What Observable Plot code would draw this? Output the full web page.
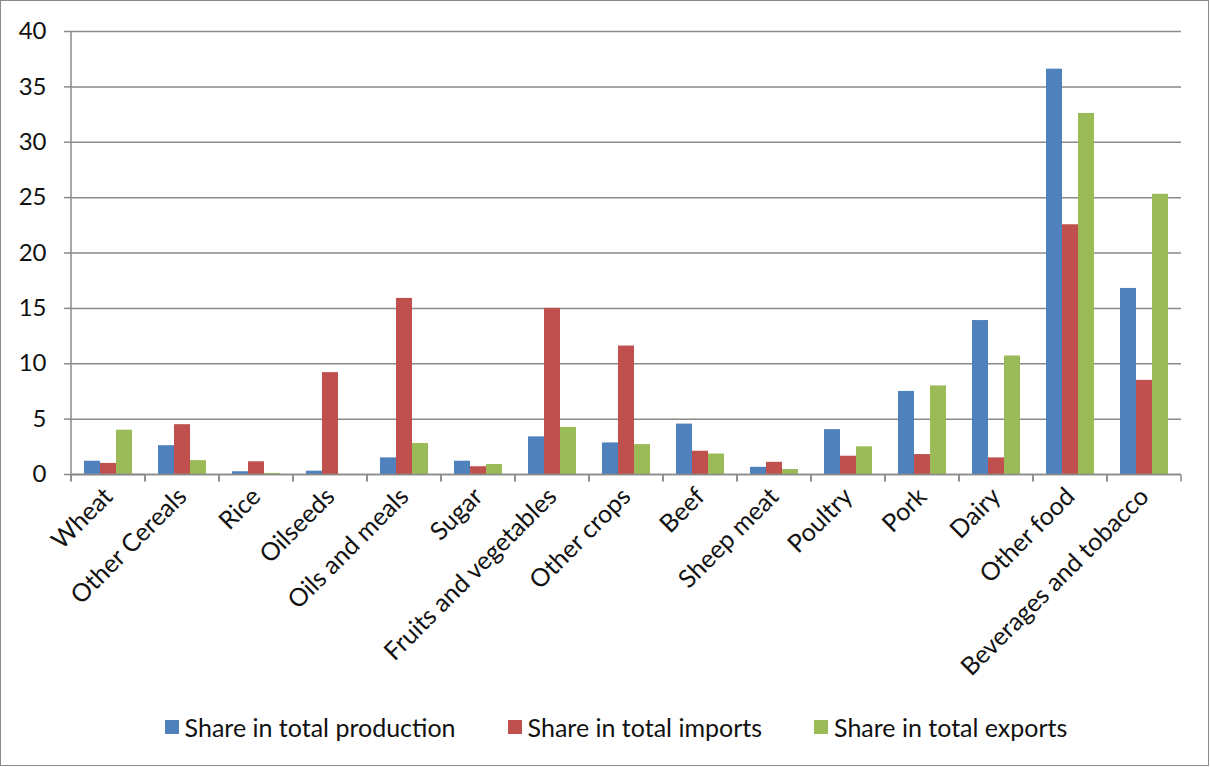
<!DOCTYPE html>
<html>
<head>
<meta charset="utf-8">
<script src="https://cdn.jsdelivr.net/npm/d3@7"></script>
<script src="https://cdn.jsdelivr.net/npm/@observablehq/plot@0.6"></script>
<style>
  body { margin: 0; background: #fff; }
  #wrap { position: relative; width: 1210px; height: 767px; background: #fff; overflow: hidden; font-family: Lato, "Open Sans", sans-serif; }
  #chart { position: absolute; left: 0; top: 0; }
  #border { position: absolute; left: 0; top: 0; width: 1209px; height: 766px; box-sizing: border-box; border: 1.5px solid #8a8a8a; pointer-events: none; }
  #legend { position: absolute; top: 712px; left: 0; width: 1210px; box-sizing: border-box; padding-left: 22px; display: flex; justify-content: center; gap: 52px; font-size: 25px; color: #111; }
  .item { display: flex; align-items: center; gap: 6px; }
  .sw { width: 14px; height: 14px; display: inline-block; }
</style>
</head>
<body>
<div id="wrap">
  <div id="chart"></div>
  <div id="legend"></div>
  <div id="border"></div>
</div>
<script>
const categories = ["Wheat", "Other Cereals", "Rice", "Oilseeds", "Oils and meals", "Sugar", "Fruits and vegetables", "Other crops", "Beef", "Sheep meat", "Poultry", "Pork", "Dairy", "Other food", "Beverages and tobacco"];
const seriesNames = ["Share in total production", "Share in total imports", "Share in total exports"];
const production = [1.2, 2.6, 0.25, 0.3, 1.5, 1.2, 3.4, 2.85, 4.55, 0.65, 4.05, 7.5, 13.9, 36.6, 16.8];
const imports    = [1.0, 4.5, 1.15, 9.2, 15.9, 0.7, 15.0, 11.6, 2.1, 1.1, 1.65, 1.8, 1.5, 22.55, 8.5];
const exports    = [4.0, 1.25, 0.1, 0, 2.8, 0.9, 4.25, 2.7, 1.85, 0.45, 2.5, 8.0, 10.7, 32.6, 25.3];
const yTicks = [0, 5, 10, 15, 20, 25, 30, 35, 40];
const colors = ["#4F81BD", "#C0504D", "#9BBB59"];

const valuesBySeries = [production, imports, exports];
const rows = categories.flatMap((c, i) => seriesNames.map((s, k) => ({category: c, series: s, value: valuesBySeries[k][i]})));

const gridColor = "#8a8a8a";
const font = "Lato, 'Open Sans', sans-serif";

function addLine(g, x1, y1, x2, y2) {
  const l = document.createElementNS("http://www.w3.org/2000/svg", "line");
  l.setAttribute("x1", x1); l.setAttribute("x2", x2);
  l.setAttribute("y1", y1); l.setAttribute("y2", y2);
  l.setAttribute("stroke", gridColor);
  l.setAttribute("stroke-width", 1.5);
  g.appendChild(l);
}

function separators(index, scales, values, dims, context, next) {
  const g = next(index, scales, values, dims, context);
  const y0 = scales.y(0);
  addLine(g, dims.marginLeft, y0, dims.marginLeft, y0 + 7);
  addLine(g, dims.width - dims.marginRight, y0, dims.width - dims.marginRight, y0 + 7);
  return g;
}

function yAxisLine(index, scales, values, dims, context, next) {
  const g = next(index, scales, values, dims, context);
  addLine(g, dims.marginLeft, scales.y(40), dims.marginLeft, scales.y(0) + 7);
  return g;
}

const chart = Plot.plot({
  width: 1210,
  height: 712,
  marginLeft: 70,
  marginRight: 28,
  marginTop: 31,
  marginBottom: 712 - 474,
  style: {fontFamily: font, fontSize: "22px", color: "#111", background: "transparent"},
  fx: {domain: categories, padding: 0, label: null},
  x: {domain: seriesNames, paddingInner: 0, paddingOuter: 0.75, axis: null},
  y: {domain: [0, 40], label: null},
  color: {domain: seriesNames, range: colors},
  marks: [
    Plot.gridY(yTicks, {stroke: gridColor, strokeOpacity: 1, strokeWidth: 1.5}),
    Plot.axisY(yTicks, {tickSize: 7, stroke: gridColor, strokeWidth: 1.5, strokeOpacity: 1, tickPadding: 18, label: null, fontSize: 24, color: "#111"}),
    Plot.axisFx({anchor: "bottom", tickRotate: -45, tickSize: 0, label: null, fontSize: 25, tickPadding: 18}),
    Plot.barY(rows, {fx: "category", x: "series", y: "value", fill: "series"}),
    Plot.ruleY([categories[0]], {fx: d => d, y: () => 0, stroke: gridColor, strokeWidth: 1.5, render: yAxisLine}),
    Plot.ruleY(categories, {fx: d => d, y: () => 0, stroke: gridColor, strokeWidth: 1.5, render: separators})
  ]
});
document.getElementById("chart").appendChild(chart);

const legend = document.getElementById("legend");
seriesNames.forEach((s, k) => {
  const item = document.createElement("div");
  item.className = "item";
  const sw = document.createElement("span");
  sw.className = "sw";
  sw.style.background = colors[k];
  const t = document.createElement("span");
  t.textContent = s;
  item.appendChild(sw);
  item.appendChild(t);
  legend.appendChild(item);
});
</script>
</body>
</html>
